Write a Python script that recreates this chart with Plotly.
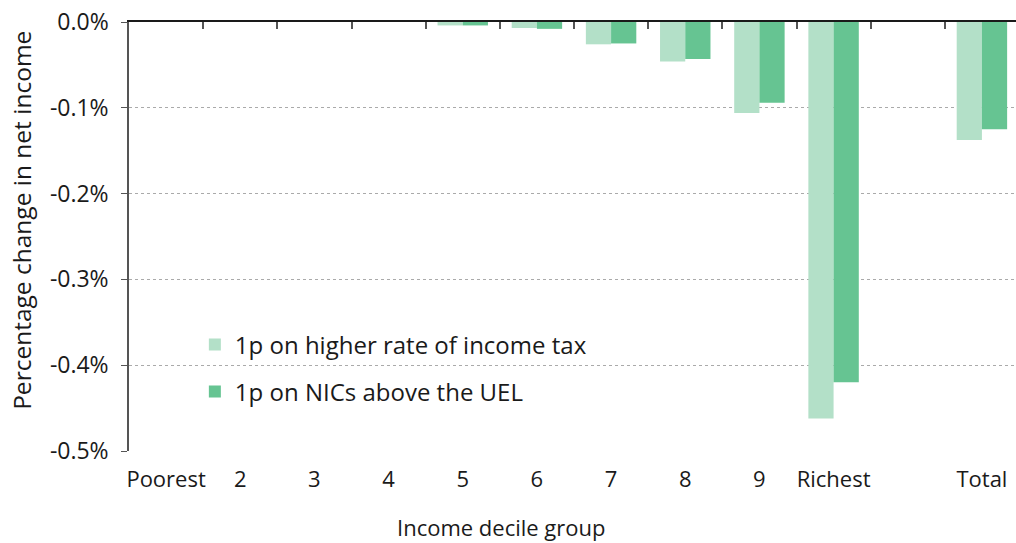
import plotly.graph_objects as go

categories = ["Poorest", "2", "3", "4", "5", "6", "7", "8", "9", "Richest", "", "Total"]
income_tax = [0.0, 0.0, 0.0, 0.0, -0.004, -0.007, -0.026, -0.046, -0.106, -0.462, None, -0.1375]
nics_uel = [0.0, 0.0, 0.0, 0.0, -0.004, -0.008, -0.025, -0.043, -0.094, -0.420, None, -0.125]
series_names = ["1p on higher rate of income tax", "1p on NICs above the UEL"]
y_ticks = [0.0, -0.1, -0.2, -0.3, -0.4, -0.5]
y_tick_labels = ["0.0%", "-0.1%", "-0.2%", "-0.3%", "-0.4%", "-0.5%"]
x_title = "Income decile group"
y_title = "Percentage change in net income"

FONT = "Open Sans, Noto Sans, sans-serif"
xpos = list(range(len(categories)))

fig = go.Figure()
fig.add_trace(go.Bar(x=xpos, y=income_tax, name=series_names[0],
                     marker=dict(color="#b3e0c8", line=dict(width=0)),
                     legendgroup="a"))
fig.add_trace(go.Bar(x=xpos, y=nics_uel, name=series_names[1],
                     marker=dict(color="#66c492", line=dict(width=0)),
                     legendgroup="b"))
# invisible trace to carry the top axis with boundary ticks
fig.add_trace(go.Scatter(x=[xpos[0]], y=[0], xaxis="x2", mode="markers",
                         marker=dict(opacity=0), showlegend=False, hoverinfo="skip"))

fig.update_layout(
    width=1019, height=543,
    margin=dict(l=129, r=0, t=22, b=92),
    plot_bgcolor="white", paper_bgcolor="white",
    barmode="group", bargap=0.32, bargroupgap=0,
    font=dict(family=FONT, size=22, color="#1a1a1a"),
    showlegend=True,
    legend=dict(x=0.074, y=0.30, xanchor="left", yanchor="top",
                bgcolor="rgba(0,0,0,0)", font=dict(size=24),
                tracegroupgap=13, traceorder="grouped", itemwidth=30),
    xaxis=dict(range=[-0.5, len(categories) - 0.5], tickvals=xpos, ticktext=categories,
               showgrid=False, zeroline=False, showline=False, ticks="",
               automargin=False,
               ticklabelstandoff=13, tickfont=dict(size=22)),
    xaxis2=dict(overlaying="x", side="top", matches="x",
                range=[-0.5, len(categories) - 0.5], automargin=False,
                tickvals=[i + 0.5 for i in xpos[:-1]], showticklabels=False,
                ticks="inside", ticklen=7, tickcolor="#555555", tickwidth=1.5,
                showline=True, linecolor="#1a1a1a", linewidth=2,
                showgrid=False, zeroline=False, anchor="y"),
    yaxis=dict(range=[-0.5, 0], tickvals=y_ticks, ticktext=y_tick_labels,
               showgrid=True, gridcolor="#aaaaaa", griddash="dot", gridwidth=1,
               zeroline=False, showline=True, linecolor="#555555", linewidth=1.5,
               ticks="outside", ticklen=6, tickcolor="#555555", automargin=False,
               tickfont=dict(size=23), ticklabelstandoff=8),
    annotations=[
        dict(text=x_title, xref="paper", yref="paper", x=0.419, y=-0.177,
             xanchor="center", yanchor="middle", showarrow=False, font=dict(size=22)),
        dict(text=y_title, xref="paper", yref="paper", x=-0.1206, y=0.538,
             xanchor="center", yanchor="middle", showarrow=False, textangle=-90,
             font=dict(size=24.5)),
    ],
)

fig.write_html("out.html", config={"displayModeBar": False},
               post_script="document.body.style.margin='0px';document.body.style.overflow='hidden';")
